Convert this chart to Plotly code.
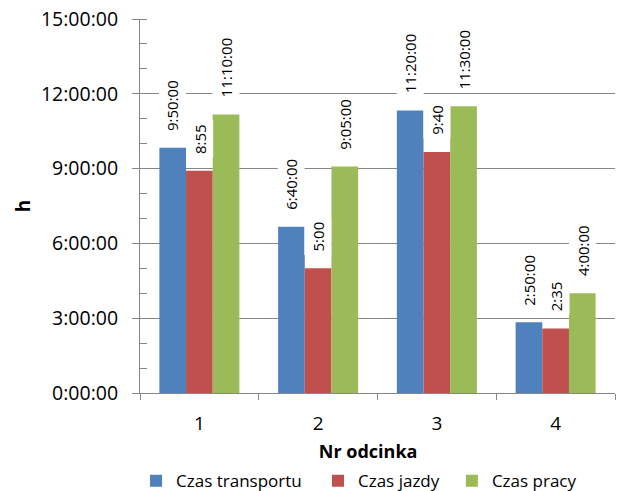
import plotly.graph_objects as go

categories = ["1", "2", "3", "4"]
series_names = ["Czas transportu", "Czas jazdy", "Czas pracy"]
series_colors = ["#4F81BD", "#C0504D", "#9BBB59"]

# durations as h:mm
czas_transportu = ["9:50", "6:40", "11:20", "2:50"]
czas_jazdy = ["8:55", "5:00", "9:40", "2:35"]
czas_pracy = ["11:10", "9:05", "11:30", "4:00"]

labels_transportu = ["9:50:00", "6:40:00", "11:20:00", "2:50:00"]
labels_jazdy = ["8:55", "5:00", "9:40", "2:35"]
labels_pracy = ["11:10:00", "9:05:00", "11:30:00", "4:00:00"]

y_tick_hours = [0, 3, 6, 9, 12, 15]
y_tick_text = ["0:00:00", "3:00:00", "6:00:00", "9:00:00", "12:00:00", "15:00:00"]
y_minor_hours = list(range(0, 16))


def to_hours(s):
    h, m = s.split(":")
    return int(h) + int(m) / 60.0


series_values = [czas_transportu, czas_jazdy, czas_pracy]
series_labels = [labels_transportu, labels_jazdy, labels_pracy]

FONT = "Open Sans"
GRAY = "#868686"
BARGAP = 0.326

fig = go.Figure()
legend_ids = ["legend", "legend2", "legend3"]
for name, color, vals, lid in zip(series_names, series_colors, series_values, legend_ids):
    fig.add_trace(go.Bar(
        x=categories, y=[to_hours(v) for v in vals], name=name,
        marker=dict(color=color, line=dict(width=0)), legend=lid,
    ))

bar_w = (1 - BARGAP) / 3
for si, (vals, labs) in enumerate(zip(series_values, series_labels)):
    off = (si - 1) * bar_w
    for ci, (v, lab) in enumerate(zip(vals, labs)):
        fig.add_annotation(
            x=ci + off, y=to_hours(v), xref="x", yref="y",
            text=lab, textangle=-90, showarrow=False,
            xanchor="center", yanchor="bottom", yshift=13,
            bgcolor="white", borderpad=3,
            font=dict(family=FONT, size=15, color="#000000"),
        )

leg_common = dict(orientation="h", xanchor="left", yanchor="middle",
                  xref="container", yref="container", y=0.02,
                  font=dict(size=17), bgcolor="rgba(0,0,0,0)", borderwidth=0)

fig.update_layout(
    width=617, height=491,
    margin=dict(l=140, r=2, t=19, b=98),
    paper_bgcolor="white", plot_bgcolor="white",
    barmode="group", bargap=BARGAP, bargroupgap=0,
    font=dict(family=FONT, size=19, color="#000000"),
    showlegend=True,
    legend=dict(x=0.2205, **leg_common),
    legend2=dict(x=0.5154, **leg_common),
    legend3=dict(x=0.7324, **leg_common),
    xaxis=dict(
        type="category", showline=True, linecolor=GRAY, linewidth=1,
        ticks="outside", tickson="boundaries", ticklen=6, tickcolor=GRAY,
        showgrid=False, ticklabelstandoff=13, automargin=True,
        title=dict(text="<b>Nr odcinka</b>&nbsp;&nbsp;&nbsp;&nbsp;",
                   font=dict(size=18), standoff=13),
    ),
    yaxis=dict(
        range=[0, 15], tickmode="array", tickvals=y_tick_hours, ticktext=y_tick_text,
        showline=True, linecolor=GRAY, linewidth=1,
        ticks="outside", ticklen=7, tickcolor=GRAY,
        tickfont=dict(size=19.5),
        showgrid=True, gridcolor=GRAY, gridwidth=1, zeroline=False,
        ticklabelstandoff=10, automargin=False,
        minor=dict(tickmode="array", tickvals=y_minor_hours, ticks="inside",
                   ticklen=7, tickcolor=GRAY, showgrid=False),
        title=dict(text="<b>h</b>", font=dict(size=19), standoff=5),
    ),
)

fig.write_html("out.html", config={"displayModeBar": False},
               post_script="document.body.style.margin='0px';")
